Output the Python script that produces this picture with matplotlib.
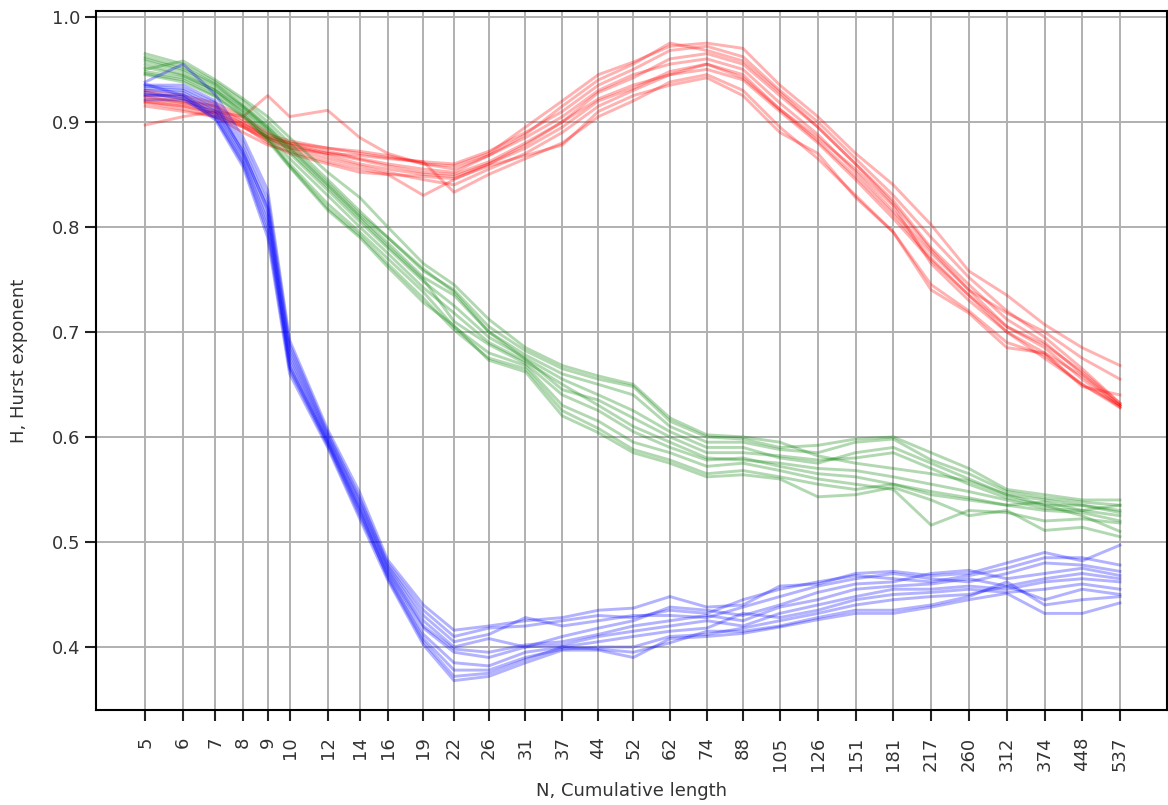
import matplotlib
matplotlib.use("Agg")
import matplotlib.pyplot as plt
from matplotlib.ticker import NullLocator

# cumulative window lengths
n_values = [5, 6, 7, 8, 9, 10, 12, 14, 16, 19, 22, 26, 31, 37, 44, 52, 62, 74, 88,
            105, 126, 151, 181, 217, 260, 312, 374, 448, 537]

# Hurst exponent estimates, one list per run
red_runs = [
    [.930, .925, .918, .905, .890, .878, .868, .860, .855, .850, .848, .860, .878, .900, .928, .942, .960, .965, .955, .925, .895, .860, .825, .780, .745, .712, .690, .660, .630],
    [.925, .920, .915, .900, .885, .875, .865, .858, .852, .845, .840, .855, .870, .890, .915, .930, .945, .950, .940, .910, .880, .845, .808, .768, .735, .705, .685, .655, .628],
    [.897, .905, .910, .905, .925, .905, .911, .885, .870, .860, .855, .868, .885, .905, .930, .945, .955, .960, .950, .918, .888, .852, .815, .775, .740, .718, .700, .675, .655],
    [.920, .915, .908, .895, .882, .875, .870, .868, .865, .862, .860, .872, .890, .910, .935, .950, .968, .972, .962, .930, .900, .865, .830, .790, .752, .720, .695, .665, .632],
    [.918, .912, .905, .890, .878, .872, .862, .855, .850, .830, .845, .860, .875, .895, .920, .932, .948, .955, .945, .912, .882, .848, .812, .770, .735, .700, .680, .658, .630],
    [.928, .922, .915, .902, .888, .882, .875, .870, .866, .862, .833, .850, .865, .880, .905, .920, .938, .945, .930, .895, .865, .830, .795, .745, .720, .690, .678, .650, .628],
    [.922, .918, .912, .898, .885, .880, .872, .865, .860, .855, .852, .868, .888, .915, .940, .955, .975, .968, .958, .928, .895, .860, .822, .778, .740, .705, .688, .662, .632],
    [.915, .910, .905, .895, .884, .878, .870, .864, .858, .852, .850, .862, .880, .900, .922, .935, .945, .955, .942, .912, .885, .855, .820, .765, .730, .700, .675, .650, .630],
    [.924, .918, .910, .898, .886, .880, .875, .872, .868, .860, .858, .870, .895, .920, .945, .957, .972, .975, .970, .935, .905, .870, .840, .802, .758, .735, .707, .685, .668],
    [.919, .915, .908, .896, .880, .870, .860, .852, .850, .848, .846, .858, .868, .878, .910, .925, .935, .942, .925, .890, .870, .828, .795, .740, .718, .685, .680, .648, .640],
]

green_runs = [
    [.965, .955, .938, .920, .900, .880, .845, .815, .790, .758, .740, .705, .682, .665, .655, .648, .615, .600, .598, .590, .592, .598, .600, .585, .570, .550, .545, .540, .540],
    [.960, .950, .935, .915, .895, .875, .840, .810, .785, .752, .735, .700, .678, .660, .650, .640, .610, .595, .595, .588, .585, .595, .598, .578, .565, .548, .542, .538, .535],
    [.955, .945, .930, .912, .892, .870, .835, .805, .780, .748, .725, .695, .675, .655, .640, .625, .605, .590, .590, .580, .575, .585, .590, .575, .560, .545, .540, .535, .530],
    [.950, .958, .940, .922, .905, .885, .852, .828, .800, .765, .745, .712, .685, .668, .658, .650, .618, .602, .600, .595, .582, .575, .570, .565, .558, .545, .535, .535, .528],
    [.948, .942, .928, .910, .888, .865, .830, .800, .775, .742, .718, .690, .672, .650, .630, .610, .595, .580, .578, .575, .570, .568, .562, .555, .548, .540, .532, .530, .525],
    [.958, .948, .932, .914, .893, .872, .838, .808, .782, .750, .710, .688, .670, .640, .625, .605, .590, .578, .580, .572, .565, .562, .555, .548, .542, .535, .530, .528, .520],
    [.946, .940, .925, .906, .885, .860, .822, .795, .770, .738, .705, .680, .668, .630, .615, .595, .585, .572, .575, .568, .560, .555, .550, .516, .530, .528, .520, .522, .518],
    [.952, .944, .930, .908, .884, .858, .818, .792, .765, .732, .702, .675, .665, .625, .608, .588, .578, .565, .568, .562, .555, .550, .555, .545, .540, .535, .538, .530, .535],
    [.962, .952, .936, .916, .896, .876, .842, .812, .790, .760, .738, .700, .674, .645, .635, .618, .600, .585, .585, .582, .578, .580, .585, .570, .555, .542, .535, .525, .510],
    [.945, .938, .924, .905, .882, .857, .816, .790, .762, .728, .706, .673, .662, .620, .604, .585, .575, .562, .564, .560, .543, .545, .552, .540, .525, .530, .511, .514, .505],
]

blue_runs = [
    [.938, .955, .926, .885, .835, .692, .607, .547, .483, .440, .416, .420, .425, .428, .435, .437, .448, .438, .440, .458, .460, .470, .472, .468, .470, .480, .490, .482, .497],
    [.935, .935, .920, .880, .828, .688, .604, .542, .480, .435, .410, .418, .420, .425, .430, .428, .435, .432, .445, .455, .462, .468, .465, .462, .468, .475, .485, .485, .478],
    [.932, .930, .915, .875, .822, .684, .602, .540, .478, .430, .405, .412, .428, .420, .425, .430, .430, .428, .438, .448, .458, .465, .470, .465, .462, .470, .480, .478, .472],
    [.930, .928, .912, .872, .816, .680, .600, .537, .476, .425, .400, .408, .400, .410, .418, .425, .438, .435, .430, .440, .452, .460, .462, .470, .473, .465, .470, .475, .468],
    [.936, .925, .910, .868, .810, .676, .598, .534, .474, .420, .398, .395, .402, .405, .412, .420, .425, .430, .425, .438, .445, .455, .458, .460, .465, .458, .465, .470, .465],
    [.928, .922, .908, .865, .805, .672, .596, .532, .472, .418, .395, .390, .400, .402, .410, .415, .420, .425, .420, .432, .440, .448, .455, .455, .458, .455, .462, .465, .462],
    [.925, .926, .905, .862, .800, .668, .594, .528, .470, .412, .385, .382, .395, .400, .405, .410, .415, .418, .432, .428, .435, .445, .450, .452, .455, .452, .455, .460, .455],
    [.921, .921, .904, .860, .795, .664, .592, .525, .468, .408, .378, .378, .390, .398, .400, .400, .410, .412, .418, .425, .432, .440, .445, .448, .450, .458, .445, .455, .450],
    [.934, .932, .918, .870, .818, .666, .595, .530, .466, .405, .372, .375, .388, .400, .398, .395, .404, .415, .415, .420, .428, .435, .435, .440, .448, .462, .440, .445, .448],
    [.926, .924, .902, .857, .790, .660, .590, .522, .464, .402, .368, .372, .385, .397, .397, .390, .408, .410, .413, .419, .426, .432, .432, .438, .445, .451, .432, .432, .442],
]

y_ticks = [0.4, 0.5, 0.6, 0.7, 0.8, 0.9, 1.0]

fig = plt.figure(figsize=(11.68, 8.05), dpi=100)
ax = fig.add_axes([0.0822, 0.118, 0.917, 0.8685])

for runs, color in [(red_runs, "r"), (green_runs, "g"), (blue_runs, "b")]:
    for run in runs:
        ax.plot(n_values, run, color=color, alpha=0.3, linewidth=2.1)

ax.set_xscale("log")
ax.set_xlim(3.95, 673)
ax.set_ylim(0.340, 1.0057)
ax.set_xticks(n_values)
ax.set_xticklabels([str(n) for n in n_values], rotation=90)
ax.xaxis.set_minor_locator(NullLocator())
ax.set_yticks(y_ticks)
ax.set_yticklabels([f"{v:.1f}" for v in y_ticks])

ax.grid(True, color="#b0b0b0", linewidth=1.4)
ax.set_axisbelow(True)
for spine in ax.spines.values():
    spine.set_linewidth(1.5)
ax.tick_params(axis="both", length=8, width=1.5, labelsize=13, colors="#222222", labelcolor="#333333")
ax.tick_params(axis="x", pad=11)

ax.set_xlabel("N, Cumulative length", fontsize=13, color="#333333", labelpad=8)
ax.set_ylabel("H, Hurst exponent", fontsize=13, color="#333333", labelpad=17)

fig.savefig("out.png", dpi=100)
